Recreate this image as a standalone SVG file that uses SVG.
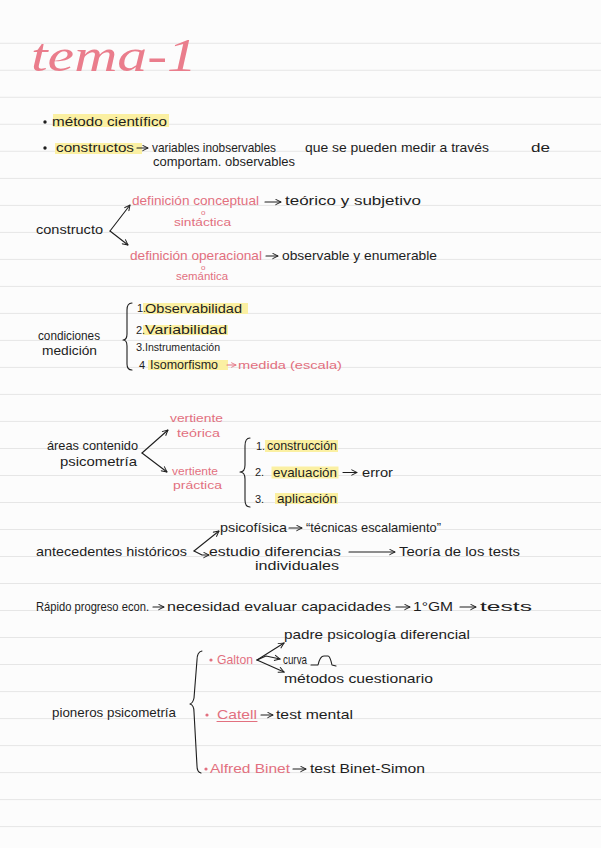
<svg xmlns="http://www.w3.org/2000/svg" width="601" height="848" viewBox="0 0 601 848">
<style>
.t{font-family:"Liberation Sans",Arial,sans-serif;font-size:13px;fill:#1e1e1e}
.p{font-family:"Liberation Sans",Arial,sans-serif;font-size:13px;fill:#e2707f}
.s{font-size:11px}
.o{font-size:8px}
.hl{fill:#fbf0a2}
.c{stroke:#1e1e1e;stroke-width:1.1;fill:none;stroke-linecap:round;stroke-linejoin:round}
.cp{stroke:#e2707f;stroke-width:1.1;fill:none;stroke-linecap:round}
.ruled{stroke:#e6e6e6;stroke-width:1}
</style>
<defs>
<marker id="ah" viewBox="0 0 10 10" refX="9" refY="5" markerWidth="7" markerHeight="7" orient="auto" markerUnits="userSpaceOnUse"><path d="M1,1 L9,5 L1,9" fill="none" stroke="#1e1e1e" stroke-width="1.4"/></marker>
<marker id="ahp" viewBox="0 0 10 10" refX="9" refY="5" markerWidth="6" markerHeight="6" orient="auto" markerUnits="userSpaceOnUse"><path d="M1,1 L9,5 L1,9" fill="none" stroke="#e2707f" stroke-width="1.4"/></marker>
</defs>
<rect width="601" height="848" fill="#fcfcfc"/>
<path class="ruled" d="M0,43.3H601M0,70.3H601M0,97.3H601M0,124.3H601M0,151.3H601M0,178.4H601M0,205.4H601M0,232.4H601M0,259.4H601M0,286.4H601M0,313.4H601M0,340.4H601M0,367.4H601M0,394.4H601M0,421.4H601M0,448.5H601M0,475.5H601M0,502.5H601M0,529.5H601M0,556.5H601M0,583.5H601M0,610.5H601M0,637.5H601M0,664.5H601M0,691.6H601M0,718.6H601M0,745.6H601M0,772.6H601M0,799.6H601M0,826.6H601"/>

<g id="title">
<text x="31" y="71" font-family="'Liberation Serif',serif" font-style="italic" font-size="46" fill="#ea7d8c" textLength="166" lengthAdjust="spacingAndGlyphs">tema-1</text>
</g>

<g id="metodo">
<rect class="hl" x="53" y="114" width="116" height="13"/>
<circle cx="45" cy="122" r="1.7" fill="#1e1e1e"/>
<text class="t" x="52" y="126" textLength="115" lengthAdjust="spacingAndGlyphs">método científico</text>
</g>

<g id="constructos">
<rect class="hl" x="55" y="143" width="87" height="11"/>
<circle cx="45" cy="148" r="1.7" fill="#1e1e1e"/>
<text class="t" x="56" y="152" textLength="78" lengthAdjust="spacingAndGlyphs">constructos</text>
<text class="t" x="152" y="152" textLength="124" lengthAdjust="spacingAndGlyphs">variables inobservables</text>
<text class="t" x="305" y="152" textLength="184" lengthAdjust="spacingAndGlyphs">que se pueden medir a través</text>
<text class="t" x="531" y="152" textLength="19" lengthAdjust="spacingAndGlyphs">de</text>
<text class="t" x="153" y="165.5" textLength="142" lengthAdjust="spacingAndGlyphs">comportam. observables</text>
</g>

<g id="constructo">
<text class="t" x="36" y="234" textLength="67" lengthAdjust="spacingAndGlyphs">constructo</text>
</g>
<g id="def-conceptual">
<text class="p" x="132" y="205" textLength="127" lengthAdjust="spacingAndGlyphs">definición conceptual</text>
<text class="t" x="285" y="205" textLength="136" lengthAdjust="spacingAndGlyphs">teórico y subjetivo</text>
<text class="p o" x="201" y="215">o</text>
<text class="p s" x="174" y="226" textLength="57" lengthAdjust="spacingAndGlyphs">sintáctica</text>
</g>
<g id="def-operacional">
<text class="p" x="130" y="259.5" textLength="132" lengthAdjust="spacingAndGlyphs">definición operacional</text>
<text class="t" x="282" y="259.5" textLength="155" lengthAdjust="spacingAndGlyphs">observable y enumerable</text>
<text class="p o" x="201" y="269.5">o</text>
<text class="p s" x="176" y="280" textLength="52" lengthAdjust="spacingAndGlyphs">semántica</text>
</g>

<g id="condiciones">
<text class="t" x="38" y="340" font-size="12" textLength="62" lengthAdjust="spacingAndGlyphs">condiciones</text>
<text class="t" x="42" y="354.5" font-size="12" textLength="55" lengthAdjust="spacingAndGlyphs">medición</text>
<path class="c" d="M132,303 Q127,303 127,310 L127,334 Q127,340 123,340 Q127,340 127,346 L127,364 Q127,370 132,370"/>
<rect class="hl" x="143" y="303" width="105" height="11"/>
<text class="t s" x="137" y="312">1.</text>
<text class="t" x="145" y="312.5" textLength="97" lengthAdjust="spacingAndGlyphs">Observabilidad</text>
<rect class="hl" x="143" y="325" width="85" height="10"/>
<text class="t s" x="136" y="333.5">2.</text>
<text class="t" x="145" y="334" textLength="82" lengthAdjust="spacingAndGlyphs">Variabilidad</text>
<text class="t s" x="136" y="350.5">3.</text>
<text class="t s" x="145" y="350.5" textLength="75" lengthAdjust="spacingAndGlyphs">Instrumentación</text>
<rect class="hl" x="148" y="360" width="80" height="10"/>
<text class="t s" x="139" y="368.5">4</text>
<text class="t" x="150" y="369" textLength="68" lengthAdjust="spacingAndGlyphs">Isomorfismo</text>
<text class="p s" x="238" y="368.5" textLength="104" lengthAdjust="spacingAndGlyphs">medida (escala)</text>
</g>

<g id="areas">
<text class="t" x="47" y="450" textLength="91" lengthAdjust="spacingAndGlyphs">áreas contenido</text>
<text class="t" x="60" y="465.5" textLength="77" lengthAdjust="spacingAndGlyphs">psicometría</text>
</g>
<g id="vertiente-teorica">
<text class="p s" x="170" y="421.5" textLength="53" lengthAdjust="spacingAndGlyphs">vertiente</text>
<text class="p s" x="177" y="436.5" textLength="43" lengthAdjust="spacingAndGlyphs">teórica</text>
</g>
<g id="vertiente-practica">
<text class="p s" x="172" y="475" textLength="46" lengthAdjust="spacingAndGlyphs">vertiente</text>
<text class="p s" x="173" y="488.5" textLength="49" lengthAdjust="spacingAndGlyphs">práctica</text>
<path class="c" d="M250,438 Q245,438 245,446 L245,465 Q245,472 240,472 Q245,472 245,479 L245,500 Q245,507 250,507"/>
<rect class="hl" x="265" y="440" width="73" height="12"/>
<text class="t s" x="256" y="450">1.</text>
<text class="t" x="267" y="450" textLength="70" lengthAdjust="spacingAndGlyphs">construcción</text>
<rect class="hl" x="271.5" y="466.5" width="67" height="12"/>
<text class="t s" x="255" y="476">2.</text>
<text class="t" x="273" y="476.5" textLength="64" lengthAdjust="spacingAndGlyphs">evaluación</text>
<text class="t" x="362" y="476.5" textLength="31" lengthAdjust="spacingAndGlyphs">error</text>
<rect class="hl" x="275" y="493" width="63" height="11"/>
<text class="t s" x="255" y="502.5">3.</text>
<text class="t" x="277" y="503" textLength="60" lengthAdjust="spacingAndGlyphs">aplicación</text>
</g>

<g id="antecedentes">
<text class="t" x="36" y="556" textLength="151" lengthAdjust="spacingAndGlyphs">antecedentes históricos</text>
</g>
<g id="psicofisica">
<text class="t" x="220" y="531.5" textLength="67" lengthAdjust="spacingAndGlyphs">psicofísica</text>
<text class="t" x="306" y="531.5" textLength="135" lengthAdjust="spacingAndGlyphs">“técnicas escalamiento”</text>
</g>
<g id="estudio">
<text class="t" x="209" y="556" textLength="132" lengthAdjust="spacingAndGlyphs">estudio diferencias</text>
<text class="t" x="399" y="556" textLength="121" lengthAdjust="spacingAndGlyphs">Teoría de los tests</text>
<text class="t" x="255" y="570" textLength="84" lengthAdjust="spacingAndGlyphs">individuales</text>
</g>

<g id="progreso">
<text class="t" x="36" y="610.5" textLength="113" lengthAdjust="spacingAndGlyphs">Rápido progreso econ.</text>
<text class="t" x="167" y="610.5" textLength="224" lengthAdjust="spacingAndGlyphs">necesidad evaluar capacidades</text>
<text class="t" x="413" y="610.5" textLength="40" lengthAdjust="spacingAndGlyphs">1°GM</text>
<text class="t" x="480" y="610.5" textLength="52" lengthAdjust="spacingAndGlyphs">tests</text>
</g>

<g id="pioneros">
<text class="t" x="52" y="717" textLength="124" lengthAdjust="spacingAndGlyphs">pioneros psicometría</text>
<path class="c" d="M202,651 Q197,652 197,660 L194,698 Q193,703 190,704 Q194,705 194,712 L197,766 Q197,772 201,773"/>
</g>
<g id="galton">
<circle cx="211" cy="660" r="1.6" fill="#e2707f"/>
<text class="p" x="217" y="664" textLength="36" lengthAdjust="spacingAndGlyphs">Galton</text>
<text class="t" x="284" y="638.5" textLength="186" lengthAdjust="spacingAndGlyphs">padre psicología diferencial</text>
<text class="t" x="283" y="664" textLength="24" lengthAdjust="spacingAndGlyphs">curva</text>
<path class="c" d="M311,665 L318,665 Q320,656 324,656 L328,656 Q330,656 332,665 L336,666"/>
<text class="t" x="284" y="683" textLength="149" lengthAdjust="spacingAndGlyphs">métodos cuestionario</text>
</g>
<g id="catell">
<circle cx="207" cy="715" r="1.6" fill="#e2707f"/>
<text class="p" x="217" y="719" textLength="40" lengthAdjust="spacingAndGlyphs">Catell</text>
<path class="cp" d="M217,721.5 H257"/>
<text class="t" x="276" y="719" textLength="77" lengthAdjust="spacingAndGlyphs">test mental</text>
</g>
<g id="binet">
<circle cx="206" cy="769" r="1.6" fill="#e2707f"/>
<text class="p" x="210" y="773" textLength="80" lengthAdjust="spacingAndGlyphs">Alfred Binet</text>
<text class="t" x="310" y="773" textLength="115" lengthAdjust="spacingAndGlyphs">test Binet-Simon</text>
</g>

<g id="connectors">
<path class="c" d="M137,148 H148" marker-end="url(#ah)"/>
<path class="c" d="M110,231 L130,205" marker-end="url(#ah)"/>
<path class="c" d="M110,231 L128,245" marker-end="url(#ah)"/>
<path class="c" d="M265,202 H281" marker-end="url(#ah)"/>
<path class="c" d="M266,256 H278" marker-end="url(#ah)"/>
<path class="cp" d="M227,365 H236" marker-end="url(#ahp)"/>
<path class="c" d="M142,453 L168,430" marker-end="url(#ah)"/>
<path class="c" d="M142,453 L167,472" marker-end="url(#ah)"/>
<path class="c" d="M343,472.5 H357" marker-end="url(#ah)"/>
<path class="c" d="M289,528 H302" marker-end="url(#ah)"/>
<path class="c" d="M194,551 L219,531" marker-end="url(#ah)"/>
<path class="c" d="M194,551 L202,555 H209" marker-end="url(#ah)"/>
<path class="c" d="M349,552 H395" marker-end="url(#ah)"/>
<path class="c" d="M153,607 H164" marker-end="url(#ah)"/>
<path class="c" d="M396,607 H410" marker-end="url(#ah)"/>
<path class="c" d="M460,607 H476" marker-end="url(#ah)"/>
<path class="c" d="M257,660 L284,643" marker-end="url(#ah)"/>
<path class="c" d="M257,660 L266,656 L280,659" marker-end="url(#ah)"/>
<path class="c" d="M257,660 L284,672" marker-end="url(#ah)"/>
<path class="c" d="M261,715 H273" marker-end="url(#ah)"/>
<path class="c" d="M293,769 H306" marker-end="url(#ah)"/>
</g>
</svg>
